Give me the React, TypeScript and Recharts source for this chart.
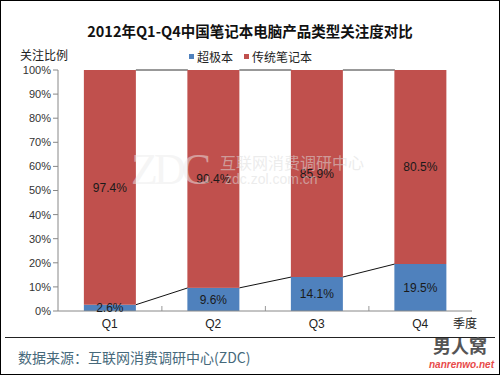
import { Bar, ComposedChart, LabelList, XAxis, YAxis } from 'recharts';

const quarters = ['Q1', 'Q2', 'Q3', 'Q4'];
const ultrabook = [2.6, 9.6, 14.1, 19.5];
const traditional = [97.4, 90.4, 85.9, 80.5];
const yTicks = [0, 10, 20, 30, 40, 50, 60, 70, 80, 90, 100];

const BLUE = '#4F81BD';
const RED = '#C0504D';
const GAP = 0.25;
const CJK = '"Noto Sans CJK SC", sans-serif';
const LATIN = '"Liberation Sans", "Noto Sans CJK SC", sans-serif';

const data = quarters.map((q, i) => ({
  q,
  ultra: ultrabook[i],
  trad: traditional[i],
}));

// blue bar + series line to the next bar's top + tick at category boundary
const BlueShape = (props: any) => {
  const { x, y, width, height, index, fill } = props;
  const band = width / (1 - 2 * GAP);
  const bottom = y + height;
  const perUnit = height / ultrabook[index];
  const next = ultrabook[index + 1];
  const edge = x + width + (band - width) / 2;
  return (
    <g>
      <rect x={x} y={y} width={width} height={height} fill={fill} />
      {next !== undefined && (
        <>
          <line
            x1={x + width}
            y1={y}
            x2={x + band}
            y2={bottom - next * perUnit}
            stroke="#111"
            strokeWidth={1}
          />
          <line x1={edge} y1={bottom} x2={edge} y2={bottom - 5} stroke="#999" />
        </>
      )}
    </g>
  );
};

const RedShape = (props: any) => {
  const { x, y, width, height, index, fill } = props;
  const band = width / (1 - 2 * GAP);
  return (
    <g>
      <rect x={x} y={y} width={width} height={height} fill={fill} />
      {index < quarters.length - 1 && (
        <line x1={x + width} y1={y} x2={x + band} y2={y} stroke="#333" />
      )}
    </g>
  );
};

const pct = (v: any) => `${v}%`;

export default function App() {
  return (
    <div
      style={{
        position: 'absolute',
        left: 0,
        top: 0,
        width: 500,
        height: 375,
        boxSizing: 'border-box',
        border: '1px solid #000',
        background: '#fff',
        fontFamily: LATIN,
        overflow: 'hidden',
      }}
    >
      <div
        style={{
          position: 'absolute',
          top: 19,
          left: 0,
          width: 498,
          textAlign: 'center',
          fontFamily: CJK,
          fontWeight: 700,
          fontSize: 14.5,
          color: '#111',
        }}
      >
        2012年Q1-Q4中国笔记本电脑产品类型关注度对比
      </div>
      <div
        style={{
          position: 'absolute',
          top: 45,
          left: 19,
          fontFamily: CJK,
          fontSize: 12,
          color: '#222',
        }}
      >
        关注比例
      </div>
      <div
        style={{
          position: 'absolute',
          top: 47,
          left: 188,
          display: 'flex',
          alignItems: 'center',
          fontFamily: CJK,
          fontSize: 12,
          color: '#222',
        }}
      >
        <span style={{ width: 5, height: 5, background: BLUE, marginRight: 3 }} />
        <span style={{ marginRight: 11 }}>超极本</span>
        <span style={{ width: 5, height: 5, background: RED, marginRight: 3 }} />
        <span>传统笔记本</span>
      </div>

      <ComposedChart
        width={500}
        height={375}
        data={data}
        margin={{ top: 69, right: 29, left: -1, bottom: 45 }}
        barCategoryGap={`${GAP * 100}%`}
        style={{ position: 'absolute', left: 0, top: 0 }}
      >
        <XAxis
          xAxisId="cat"
          dataKey="q"
          tickLine={false}
          axisLine={{ stroke: '#888' }}
          tick={{ fontSize: 12, fill: '#222' }}
          height={20}
        />
        <XAxis
          xAxisId="top"
          dataKey="q"
          orientation="top"
          tick={false}
          tickLine={false}
          axisLine={{ stroke: '#555' }}
          height={0}
        />
        <YAxis
          yAxisId="left"
          domain={[0, 100]}
          ticks={yTicks}
          tickFormatter={pct}
          tickSize={5}
          tickLine={{ stroke: '#888' }}
          axisLine={{ stroke: '#888' }}
          tick={{ fontSize: 11, fill: '#333' }}
          width={58}
          interval={0}
        />
        <YAxis
          yAxisId="right"
          orientation="right"
          domain={[0, 100]}
          tick={false}
          tickLine={false}
          axisLine={{ stroke: '#888' }}
          width={0}
        />
        <Bar
          xAxisId="cat"
          yAxisId="left"
          dataKey="ultra"
          stackId="a"
          fill={BLUE}
          shape={<BlueShape />}
          isAnimationActive={false}
        >
          <LabelList dataKey="ultra" position="center" formatter={pct} fill="#1a1a1a" fontSize={12} />
        </Bar>
        <Bar
          xAxisId="cat"
          yAxisId="left"
          dataKey="trad"
          stackId="a"
          fill={RED}
          shape={<RedShape />}
          isAnimationActive={false}
        >
          <LabelList dataKey="trad" position="center" formatter={pct} fill="#1a1a1a" fontSize={12} />
        </Bar>
      </ComposedChart>

      {/* watermark */}
      <div
        style={{
          position: 'absolute',
          left: 130,
          top: 143,
          fontFamily: '"Liberation Serif", serif',
          fontSize: 44,
          color: 'rgba(235,235,235,0.5)',
          letterSpacing: -4,
          pointerEvents: 'none',
        }}
      >
        ZDC
      </div>
      <div
        style={{
          position: 'absolute',
          left: 219,
          top: 152,
          fontFamily: CJK,
          fontSize: 16,
          color: 'rgba(220,220,220,0.55)',
          lineHeight: '18px',
        }}
      >
        互联网消费调研中心
      </div>
      <div
        style={{
          position: 'absolute',
          left: 224,
          top: 170,
          fontFamily: LATIN,
          fontSize: 14,
          color: 'rgba(220,220,220,0.55)',
          lineHeight: '16px',
        }}
      >
        zdc.zol.com.cn
      </div>

      <div
        style={{
          position: 'absolute',
          left: 452,
          top: 313,
          fontFamily: CJK,
          fontSize: 12,
          color: '#222',
        }}
      >
        季度
      </div>
      <div
        style={{
          position: 'absolute',
          left: 4,
          top: 336,
          width: 490,
          borderTop: '1px solid #222',
        }}
      />
      <div
        style={{
          position: 'absolute',
          left: 17,
          top: 346,
          fontFamily: CJK,
          fontSize: 14,
          color: '#46697b',
        }}
      >
        数据来源：互联网消费调研中心(ZDC)
      </div>
      <div
        style={{
          position: 'absolute',
          left: 432,
          top: 333,
          fontFamily: CJK,
          fontWeight: 700,
          fontSize: 18,
          color: '#555',
          lineHeight: '22px',
        }}
      >
        男人窝
      </div>
      <div
        style={{
          position: 'absolute',
          left: 428,
          top: 358,
          fontFamily: LATIN,
          fontWeight: 700,
          fontStyle: 'italic',
          fontSize: 10,
          color: '#e84a4a',
          lineHeight: '12px',
        }}
      >
        nanrenwo.net
      </div>
    </div>
  );
}
